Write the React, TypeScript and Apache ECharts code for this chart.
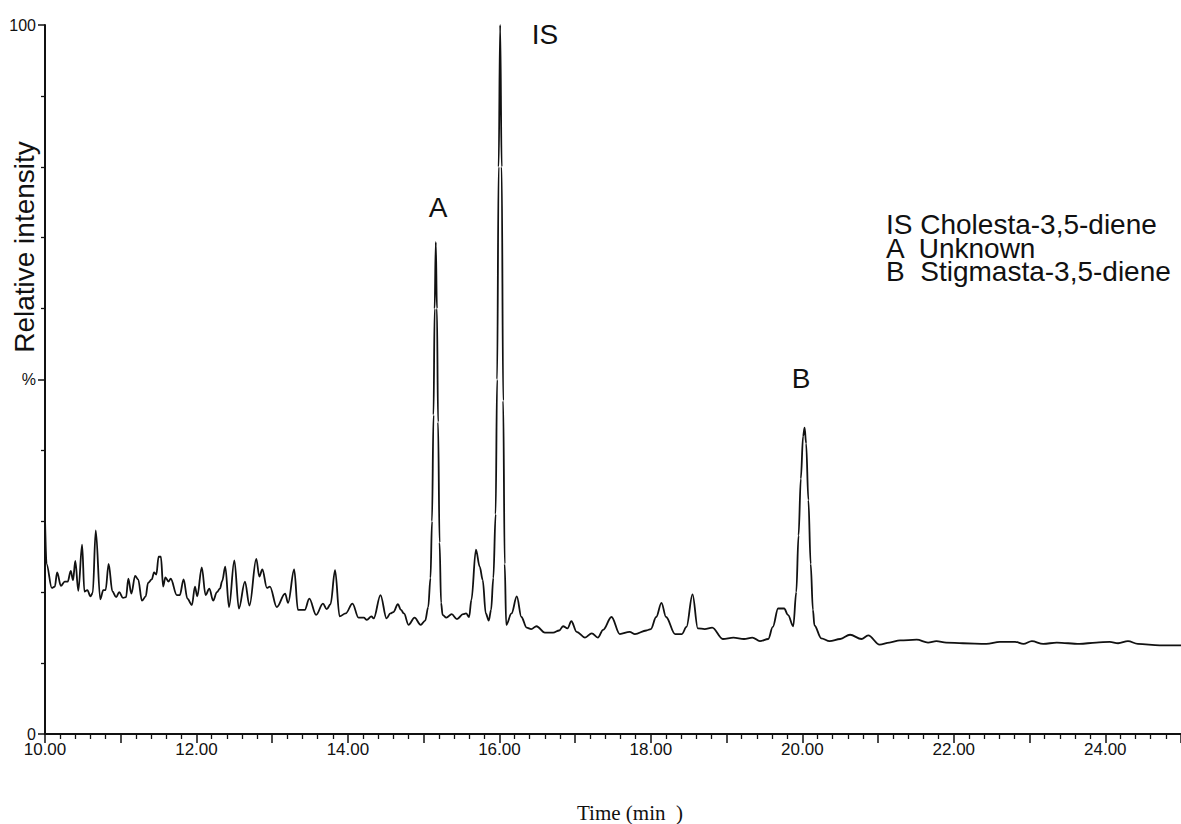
import React, { useEffect, useRef } from "react";
import * as echarts from "echarts";

// Retention time (min) and relative intensity (%)
const times: number[] = [
  10.0, 10.02, 10.09, 10.13, 10.16, 10.21, 10.26, 10.3, 10.34, 10.37, 10.4, 10.44, 10.49, 10.52,
  10.56, 10.6, 10.63, 10.67, 10.73, 10.77, 10.8, 10.84, 10.89, 10.94, 10.98, 11.03, 11.07, 11.1,
  11.14, 11.19, 11.23, 11.28, 11.33, 11.36, 11.41, 11.44, 11.47, 11.5, 11.53, 11.56, 11.59, 11.63,
  11.66, 11.74, 11.78, 11.83, 11.88, 11.94, 11.98, 12.01, 12.07, 12.12, 12.17, 12.22, 12.27, 12.31,
  12.34, 12.38, 12.43, 12.5, 12.56, 12.64, 12.7, 12.79, 12.83, 12.87, 12.93, 12.97, 13.06, 13.17,
  13.21, 13.29, 13.34, 13.43, 13.49, 13.58, 13.67, 13.72, 13.77, 13.83, 13.89, 13.97, 14.06, 14.14,
  14.21, 14.25, 14.31, 14.34, 14.43, 14.51, 14.56, 14.6, 14.66, 14.7, 14.74, 14.8, 14.88, 14.96,
  15.02, 15.06, 15.09, 15.11, 15.13, 15.145, 15.16, 15.175, 15.19, 15.21, 15.23, 15.25, 15.3, 15.37,
  15.44, 15.52, 15.56, 15.6, 15.63, 15.69, 15.74, 15.78, 15.82, 15.86, 15.89, 15.92, 15.95, 15.97,
  15.99, 16.01, 16.03, 16.05, 16.07, 16.09, 16.16, 16.23, 16.29, 16.36, 16.42, 16.49, 16.6, 16.71,
  16.79, 16.84, 16.9, 16.95, 17.02, 17.13, 17.22, 17.3, 17.37, 17.48, 17.59, 17.72, 17.79, 17.94,
  18.0, 18.07, 18.14, 18.2, 18.32, 18.41, 18.47, 18.55, 18.62, 18.71, 18.81, 18.95, 19.09, 19.23,
  19.34, 19.44, 19.55, 19.61, 19.68, 19.76, 19.81, 19.88, 19.92, 19.95, 19.98, 20.01, 20.03, 20.05,
  20.08, 20.11, 20.14, 20.16, 20.25, 20.36, 20.5, 20.63, 20.78, 20.87, 21.02, 21.15, 21.29, 21.51,
  21.66, 21.77, 21.9, 22.12, 22.43, 22.61, 22.81, 22.92, 23.03, 23.18, 23.36, 23.66, 23.88, 24.06,
  24.17, 24.3, 24.43, 24.72, 25.0,
];

const intensity: number[] = [
  30.5, 24.0, 20.6, 20.8, 22.8, 20.9, 21.5, 21.5, 23.0, 21.7, 24.4, 20.2, 26.7, 20.1,
  20.3, 19.4, 19.9, 28.7, 19.0, 20.3, 20.3, 24.0, 20.1, 19.3, 20.0, 19.2, 19.3, 21.9,
  19.8, 22.3, 21.8, 18.8, 19.4, 21.3, 21.8, 22.8, 22.5, 25.0, 25.0, 20.8, 22.1, 21.5,
  21.9, 19.6, 19.6, 21.8, 19.1, 18.2, 20.8, 19.4, 23.5, 19.6, 20.5, 18.8, 20.0, 20.5,
  21.6, 23.6, 17.9, 24.5, 17.7, 21.5, 18.1, 24.7, 22.2, 23.2, 20.6, 20.8, 17.9, 19.8,
  18.5, 23.2, 17.5, 17.5, 19.1, 16.8, 18.4, 17.6, 18.3, 23.1, 16.6, 17.0, 18.4, 16.4,
  16.4, 16.1, 16.6, 16.3, 19.6, 16.3, 17.0, 17.2, 18.3, 17.5, 17.0, 15.4, 16.4, 15.4,
  16.0, 17.9, 22.0, 30.0, 45.0, 60.0, 69.4, 60.0, 44.0, 27.0, 18.5, 16.8, 16.4, 16.9,
  16.2, 16.9, 17.0, 16.5, 18.9, 26.0, 23.6, 21.7, 17.0, 16.0, 17.5, 22.0, 31.0, 50.0,
  80.0, 100.0, 80.0, 47.0, 24.0, 15.4, 17.0, 19.4, 16.5, 15.0, 14.8, 15.2, 14.3, 14.3,
  14.6, 15.2, 14.9, 15.9, 14.4, 13.6, 14.2, 13.6, 14.7, 16.5, 14.1, 14.4, 14.1, 14.6,
  14.8, 16.5, 18.5, 16.5, 14.1, 14.1, 15.1, 19.7, 14.9, 14.8, 15.0, 13.4, 13.6, 13.4,
  13.6, 13.1, 13.4, 15.1, 17.7, 17.7, 16.8, 15.2, 20.0, 28.0, 36.0, 42.0, 43.2, 41.0,
  33.0, 24.0, 17.5, 15.3, 13.5, 13.1, 13.4, 14.0, 13.4, 13.9, 12.6, 12.9, 13.2, 13.3,
  12.9, 13.1, 12.9, 12.8, 12.7, 13.0, 13.0, 12.7, 13.1, 12.7, 12.9, 12.7, 12.9, 13.0,
  12.8, 13.1, 12.7, 12.5, 12.5,
];

const peakLabels: string[] = ["A", "IS", "B"];
const legendLines: string[] = [
  "IS Cholesta-3,5-diene",
  "A  Unknown",
  "B  Stigmasta-3,5-diene",
];
const yTickLabels: Record<number, string> = { 0: "0", 50: "%", 100: "100" };

export default function App() {
  const ref = useRef<HTMLDivElement>(null);

  useEffect(() => {
    if (!ref.current) return;
    const chart = echarts.init(ref.current, undefined, { renderer: "svg" });
    const data = times.map((t, i) => [t, intensity[i]]);
    const sans = "Liberation Sans";
    const ink = "#111";

    chart.setOption({
      animation: false,
      backgroundColor: "#fff",
      textStyle: { fontFamily: sans },
      grid: { left: 45, right: 0, top: 25, bottom: 90, containLabel: false },
      xAxis: {
        type: "value",
        min: 10,
        max: 25,
        interval: 1,
        axisLine: { show: true, lineStyle: { color: ink, width: 2 } },
        axisTick: { show: true, length: 9, lineStyle: { color: ink, width: 1.5 } },
        minorTick: { show: true, splitNumber: 5, length: 5, lineStyle: { color: ink, width: 1.3 } },
        splitLine: { show: false },
        axisLabel: {
          show: true,
          color: ink,
          fontFamily: sans,
          fontSize: 17,
          lineHeight: 14,
          margin: 8,
          showMaxLabel: false,
          formatter: (v: number) =>
            Math.abs(v % 2) < 1e-6 && v < 25 ? v.toFixed(2) : "",
        },
      },
      yAxis: {
        type: "value",
        min: 0,
        max: 100,
        interval: 50,
        axisLine: { show: true, lineStyle: { color: ink, width: 2 } },
        axisTick: { show: true, length: 7, lineStyle: { color: ink, width: 1.5 } },
        minorTick: { show: true, splitNumber: 5, length: 4, lineStyle: { color: ink, width: 1.3 } },
        splitLine: { show: false },
        axisLabel: {
          show: true,
          color: ink,
          fontFamily: sans,
          fontSize: 16,
          lineHeight: 12,
          margin: 9,
          formatter: (v: number) => yTickLabels[v] ?? "",
        },
      },
      series: [
        {
          type: "line",
          data,
          showSymbol: false,
          smooth: 0.35,
          smoothMonotone: "x",
          lineStyle: { color: ink, width: 1.8 },
          clip: false,
        },
      ],
      graphic: [
        {
          type: "text",
          x: 438,
          y: 207,
          style: { text: peakLabels[0], font: `28px ${sans}`, fill: ink, align: "center", verticalAlign: "middle" },
        },
        {
          type: "text",
          x: 545,
          y: 34,
          style: { text: peakLabels[1], font: `28px ${sans}`, fill: ink, align: "center", verticalAlign: "middle" },
        },
        {
          type: "text",
          x: 801,
          y: 378,
          style: { text: peakLabels[2], font: `28px ${sans}`, fill: ink, align: "center", verticalAlign: "middle" },
        },
        {
          type: "text",
          x: 886,
          y: 213,
          style: {
            text: legendLines.join("\n"),
            fontFamily: sans,
            fontSize: 28,
            lineHeight: 23.5,
            fill: ink,
            align: "left",
            verticalAlign: "top",
          },
        },
        {
          type: "text",
          x: 24,
          y: 247,
          rotation: Math.PI / 2,
          style: {
            text: "Relative intensity",
            font: `28px ${sans}`,
            fill: ink,
            align: "center",
            verticalAlign: "middle",
          },
        },
        {
          type: "text",
          x: 630,
          y: 813,
          style: {
            text: "Time (min  )",
            font: `21px 'Liberation Serif', 'Times New Roman', serif`,
            fill: ink,
            align: "center",
            verticalAlign: "middle",
          },
        },
      ],
    });

    return () => chart.dispose();
  }, []);

  return (
    <div
      ref={ref}
      style={{ position: "absolute", left: 0, top: 0, width: 1181, height: 824 }}
    />
  );
}
